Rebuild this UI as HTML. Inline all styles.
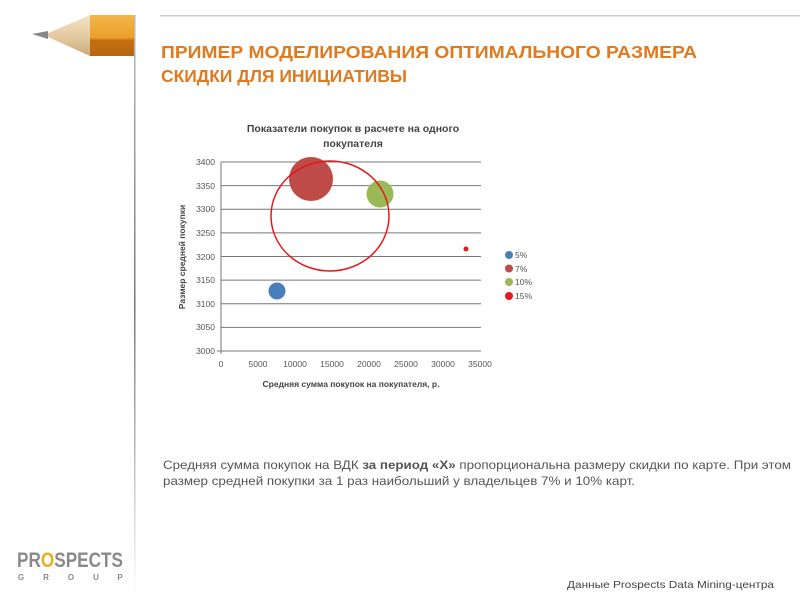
<!DOCTYPE html>
<html><head><meta charset="utf-8"><style>
html,body{margin:0;padding:0;background:#fff;width:800px;height:600px;overflow:hidden}
svg{display:block}
</style></head><body>
<svg width="800" height="600" viewBox="0 0 800 600" xmlns="http://www.w3.org/2000/svg" font-family="'Liberation Sans', 'DejaVu Sans', sans-serif">
<defs>
<linearGradient id="vl" x1="0" y1="0" x2="0" y2="1">
<stop offset="0" stop-color="#bbb"/><stop offset="0.5" stop-color="#777"/><stop offset="1" stop-color="#fff"/>
</linearGradient>
<linearGradient id="body" x1="0" y1="0" x2="0" y2="1">
<stop offset="0" stop-color="#f2b64a"/><stop offset="0.55" stop-color="#e9a02a"/><stop offset="0.62" stop-color="#c56f10"/><stop offset="1" stop-color="#b86610"/>
</linearGradient>
<linearGradient id="wood" x1="0" y1="0" x2="0" y2="1">
<stop offset="0" stop-color="#f3e3c6"/><stop offset="0.6" stop-color="#e2c59a"/><stop offset="1" stop-color="#c9a97c"/>
</linearGradient>
</defs>
<!-- pencil -->
<rect x="134" y="15" width="1.5" height="585" fill="url(#vl)"/>
<polygon points="90,15 134,15 134,56 90,56" fill="url(#body)"/>
<polygon points="90,15 90,56 48,37 46,34" fill="url(#wood)"/>
<polygon points="48,31 32,34 48,39" fill="#888"/>
<!-- top line -->
<rect x="160" y="15" width="640" height="1.5" fill="#ccc"/>
<!-- title -->
<g fill="#e07a1f" font-weight="bold" font-size="17.5">
<text x="161" y="58" textLength="536" lengthAdjust="spacingAndGlyphs">ПРИМЕР МОДЕЛИРОВАНИЯ ОПТИМАЛЬНОГО РАЗМЕРА</text>
<text x="161" y="82" textLength="246" lengthAdjust="spacingAndGlyphs">СКИДКИ ДЛЯ ИНИЦИАТИВЫ</text>
</g>
<!-- chart title -->
<g font-weight="bold" font-size="10.5" fill="#444" text-anchor="middle">
<text x="353" y="132">Показатели покупок в расчете на одного</text>
<text x="353" y="147">покупателя</text>
</g>
<!-- grid -->
<g stroke="#777" stroke-width="1">
<line x1="221" y1="162" x2="481" y2="162"/>
<line x1="221" y1="185.6" x2="481" y2="185.6"/>
<line x1="221" y1="209.2" x2="481" y2="209.2"/>
<line x1="221" y1="232.9" x2="481" y2="232.9"/>
<line x1="221" y1="256.5" x2="481" y2="256.5"/>
<line x1="221" y1="280.1" x2="481" y2="280.1"/>
<line x1="221" y1="303.7" x2="481" y2="303.7"/>
<line x1="221" y1="327.4" x2="481" y2="327.4"/>
<line x1="217" y1="351" x2="481" y2="351"/>
<line x1="221" y1="162" x2="221" y2="354"/>
</g>
<g font-size="8.5" fill="#555" text-anchor="end">
<text x="215" y="165">3400</text><text x="215" y="189">3350</text><text x="215" y="212">3300</text><text x="215" y="236">3250</text><text x="215" y="260">3200</text><text x="215" y="283">3150</text><text x="215" y="307">3100</text><text x="215" y="330">3050</text><text x="215" y="354">3000</text>
</g>
<g font-size="8.5" fill="#555" text-anchor="middle">
<text x="221" y="367">0</text><text x="258" y="367">5000</text><text x="295" y="367">10000</text><text x="332" y="367">15000</text><text x="369" y="367">20000</text><text x="406" y="367">25000</text><text x="443" y="367">30000</text><text x="480" y="367">35000</text>
</g>
<text x="351" y="387" font-size="8.5" font-weight="bold" fill="#444" text-anchor="middle">Средняя сумма покупок на покупателя, р.</text>
<text transform="translate(185,257) rotate(-90)" font-size="8.5" font-weight="bold" fill="#444" text-anchor="middle">Размер средней покупки</text>
<!-- bubbles -->
<circle cx="277" cy="291" r="8.5" fill="#4a7ebb"/>
<circle cx="311" cy="179" r="22" fill="#be4b48"/>
<circle cx="380" cy="194" r="13.5" fill="#98b954"/>
<circle cx="466" cy="249" r="2.5" fill="#e31a1c"/>
<ellipse cx="330" cy="216" rx="59" ry="55" fill="none" stroke="#e31a1c" stroke-width="1.5"/>
<!-- legend -->
<circle cx="509" cy="255" r="4" fill="#4a7ebb"/>
<circle cx="509" cy="268.5" r="4" fill="#be4b48"/>
<circle cx="509" cy="282" r="4" fill="#98b954"/>
<circle cx="509" cy="296" r="4" fill="#e31a1c"/>
<g font-size="8.5" fill="#555">
<text x="515" y="258">5%</text><text x="515" y="272">7%</text><text x="515" y="285">10%</text><text x="515" y="299">15%</text>
</g>
<!-- body text -->
<g font-size="12" fill="#555">
<text x="163" y="469" textLength="628" lengthAdjust="spacingAndGlyphs">Средняя сумма покупок на ВДК <tspan font-weight="bold">за период «Х»</tspan> пропорциональна размеру скидки по карте. При этом</text>
<text x="163" y="485" textLength="472" lengthAdjust="spacingAndGlyphs">размер средней покупки за 1 раз наибольший у владельцев 7% и 10% карт.</text>
</g>
<!-- logo -->
<text x="17" y="567" font-size="21" font-weight="bold" fill="#8a8a8a" textLength="106" lengthAdjust="spacingAndGlyphs">PR<tspan fill="#e8b020">O</tspan>SPECTS</text>
<g font-size="8" fill="#8a8a8a" font-weight="bold" text-anchor="middle">
<text x="21" y="580">G</text><text x="46" y="580">R</text><text x="71" y="580">O</text><text x="96" y="580">U</text><text x="120" y="580">P</text>
</g>
<text x="567" y="588" font-size="10.5" fill="#444" textLength="207" lengthAdjust="spacingAndGlyphs">Данные Prospects Data Mining-центра</text>
</svg>
</body></html>
